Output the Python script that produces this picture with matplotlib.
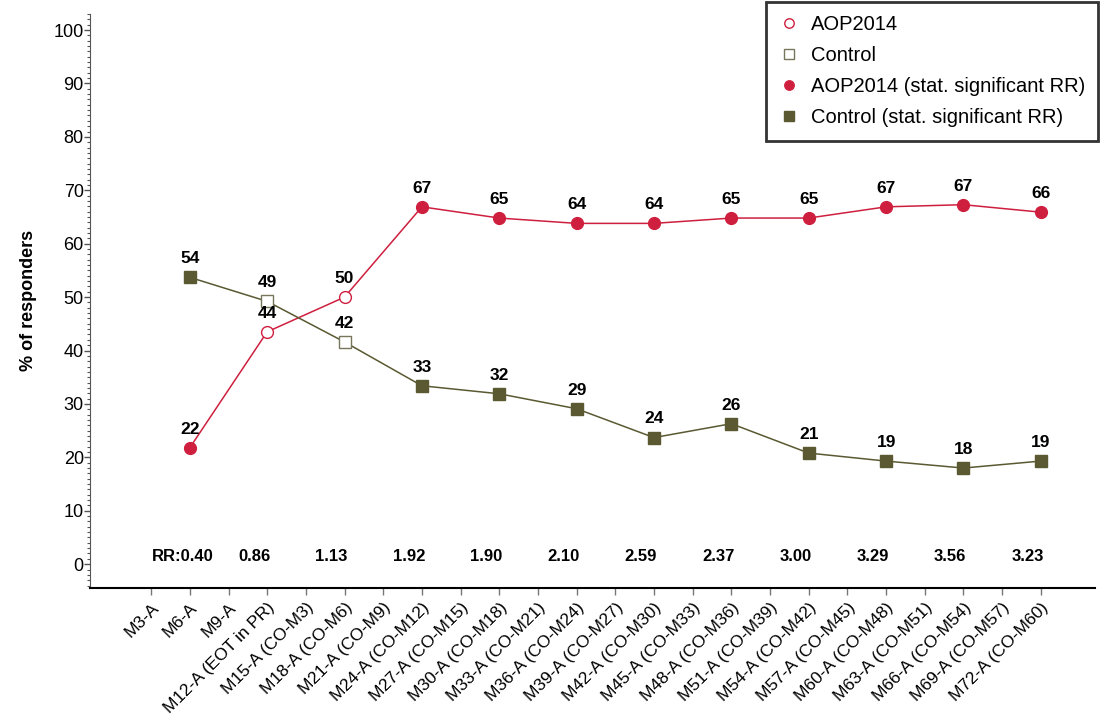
import numpy as np
import matplotlib.pyplot as plt
from matplotlib.ticker import MultipleLocator

plt.rcParams['font.family'] = ['Liberation Sans', 'DejaVu Sans']

visits = ["M3-A", "M6-A", "M9-A", "M12-A (EOT in PR)", "M15-A (CO-M3)", "M18-A (CO-M6)",
          "M21-A (CO-M9)", "M24-A (CO-M12)", "M27-A (CO-M15)", "M30-A (CO-M18)",
          "M33-A (CO-M21)", "M36-A (CO-M24)", "M39-A (CO-M27)", "M42-A (CO-M30)",
          "M45-A (CO-M33)", "M48-A (CO-M36)", "M51-A (CO-M39)", "M54-A (CO-M42)",
          "M57-A (CO-M45)", "M60-A (CO-M48)", "M63-A (CO-M51)", "M66-A (CO-M54)",
          "M69-A (CO-M57)", "M72-A (CO-M60)"]

# assessed visits (every 6 months)
measured = ["M6-A", "M12-A (EOT in PR)", "M18-A (CO-M6)", "M24-A (CO-M12)", "M30-A (CO-M18)",
            "M36-A (CO-M24)", "M42-A (CO-M30)", "M48-A (CO-M36)", "M54-A (CO-M42)",
            "M60-A (CO-M48)", "M66-A (CO-M54)", "M72-A (CO-M60)"]

aop = [21.8, 43.5, 50.0, 66.9, 64.8, 63.8, 63.8, 64.8, 64.8, 66.9, 67.3, 65.9]
control = [53.7, 49.2, 41.6, 33.4, 31.9, 29.1, 23.7, 26.3, 20.8, 19.3, 18.0, 19.3]
significant = [True, False, False, True, True, True, True, True, True, True, True, True]
rr = ["0.40", "0.86", "1.13", "1.92", "1.90", "2.10", "2.59", "2.37", "3.00", "3.29", "3.56", "3.23"]

red = "#cf1f3f"
olive = "#5a5932"

xpos = np.array([visits.index(v) for v in measured])
sig = np.array(significant)
aop = np.array(aop)
control = np.array(control)

fig = plt.figure(figsize=(11.06, 7.18), dpi=100)
ax = fig.add_axes([0.0814, 0.1815, 0.9086, 0.799])

ax.plot(xpos, aop, color=red, lw=1.1, zorder=2)
ax.plot(xpos, control, color=olive, lw=1.1, zorder=2)

ms = 8.5
ax.plot(xpos[~sig], aop[~sig], 'o', ms=ms, mfc='white', mec=red, mew=1.0, ls='none',
        label="AOP2014", zorder=3)
ax.plot(xpos[~sig], control[~sig], 's', ms=ms, mfc='white', mec='#77765a', mew=1.0, ls='none',
        label="Control", zorder=3)
ax.plot(xpos[sig], aop[sig], 'o', ms=ms, color=red, ls='none',
        label="AOP2014 (stat. significant RR)", zorder=3)
ax.plot(xpos[sig], control[sig], 's', ms=ms, color=olive, ls='none',
        label="Control (stat. significant RR)", zorder=3)

for x, a, c in zip(xpos, aop, control):
    ax.annotate(f"{a:.0f}", (x, a), xytext=(0, 8), textcoords='offset points',
                ha='center', va='bottom', fontsize=12.5, fontweight='bold')
    ax.annotate(f"{c:.0f}", (x, c), xytext=(0, 8), textcoords='offset points',
                ha='center', va='bottom', fontsize=12.5, fontweight='bold')

# relative response ratios along the bottom
for i, (x, r) in enumerate(zip(xpos, rr)):
    if i == 0:
        ax.text(x - 0.18, 1.4, "RR:" + r, ha='center', va='center', fontsize=12, fontweight='bold')
    else:
        ax.text(x - 0.34, 1.4, r, ha='center', va='center', fontsize=12, fontweight='bold')

ax.set_xlim(-1.58, 24.4)
ax.set_ylim(-4.4, 103)
ax.set_xticks(range(len(visits)))
ax.set_xticklabels(visits, rotation=45, ha='right', rotation_mode='anchor', fontsize=12.5)
ax.set_yticks(range(0, 101, 10))
ax.yaxis.set_minor_locator(MultipleLocator(1))
ax.tick_params(axis='y', labelsize=13, length=4, width=1, color='#555555', pad=0.5)
ax.tick_params(axis='y', which='minor', length=2, width=0.8, color='#555555')
ax.tick_params(axis='x', length=5, width=1, color='#777777', pad=4)
ax.set_ylabel("% of responders", fontsize=13, fontweight='bold', labelpad=12)

ax.spines['top'].set_visible(False)
ax.spines['right'].set_visible(False)
ax.spines['left'].set_color('#555555')
ax.spines['bottom'].set_linewidth(1.5)

leg = ax.legend(loc='upper right', bbox_to_anchor=(0.993, 0.997), bbox_transform=fig.transFigure,
                fontsize=14.5, frameon=True, fancybox=False, handlelength=1.0, handletextpad=0.6,
                labelspacing=0.6, borderpad=0.65, borderaxespad=0, markerscale=0.8)
leg.get_frame().set_edgecolor('black')
leg.get_frame().set_linewidth(2)

fig.savefig("out.png", dpi=100)
